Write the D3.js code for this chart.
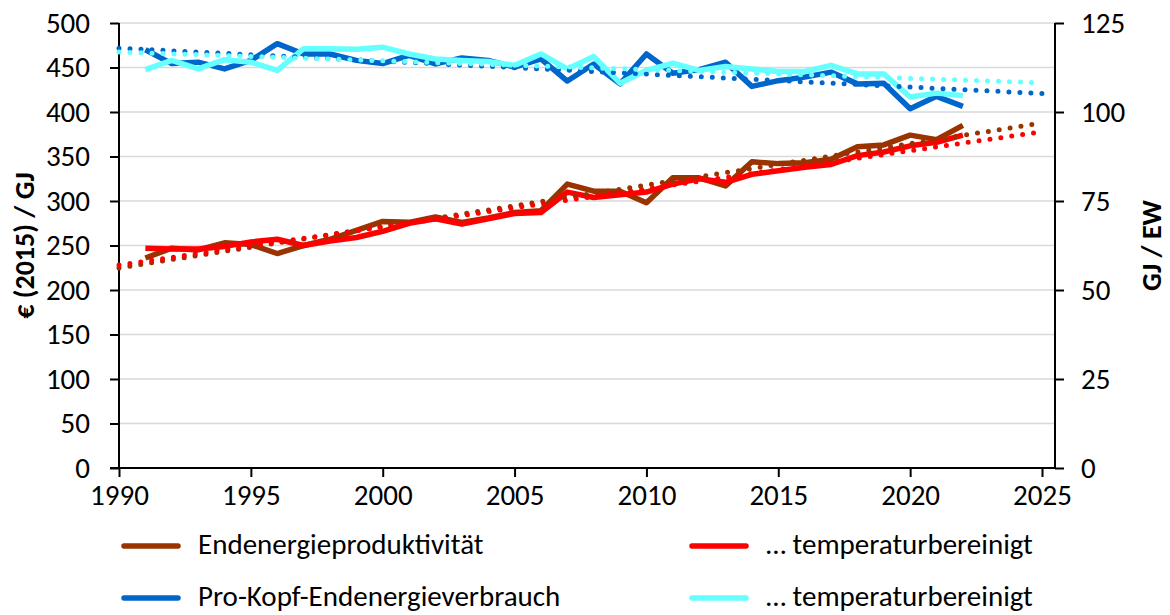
<!DOCTYPE html>
<html lang="de">
<head>
    <meta charset="UTF-8">
    <title>Endenergieproduktivität und Pro-Kopf-Endenergieverbrauch</title>
    <style>
        body, html {
            margin: 0;
            padding: 0;
            background-color: #ffffff;
            font-family: Carlito, Calibri, Lato, sans-serif;
        }
        .tick text { font-size: 29px; fill: #000; }
        .axis-title { font-size: 28px; font-weight: bold; fill: #000; }
        .legend text { font-size: 29px; fill: #000; }
    </style>
</head>
<body>
    <div id="chart"></div>

    <script src="https://d3js.org/d3.v7.min.js"></script>
    <script>
        // Jahre
        const years = d3.range(1991, 2023);

        // Endenergieproduktivität, € (2015) / GJ (linke Achse)
        const produktivitaet = [236, 247, 245, 253, 251, 241, 250, 257, 267, 277, 276,
            282, 276, 281, 287, 289, 319, 311, 311, 298, 326, 326, 317, 344, 342, 343,
            347, 361, 363, 374, 369, 385];
        const produktivitaetTemp = [247, 246, 246, 249, 254, 257, 250, 255, 259, 266, 275,
            280, 274, 280, 286, 287, 310, 304, 307, 310, 319, 325, 321, 330, 334, 338,
            341, 351, 355, 362, 366, 374];

        // Pro-Kopf-Endenergieverbrauch, GJ / EW (rechte Achse)
        const proKopf = [117.5, 113.6, 114.0, 112.1, 114.5, 119.2, 116.3, 116.3, 114.5, 113.6,
            115.9, 113.5, 115.2, 114.5, 112.6, 114.9, 108.7, 113.5, 107.9, 116.3, 110.9,
            111.9, 114.0, 107.2, 108.8, 109.8, 111.2, 107.9, 108.1, 100.9, 104.4, 101.6];
        const proKopfTemp = [111.9, 114.5, 112.1, 114.7, 114.0, 111.7, 117.8, 117.8, 117.6, 118.2,
            116.3, 114.9, 114.5, 114.2, 113.1, 116.3, 112.1, 115.6, 108.1, 111.7, 113.7,
            111.7, 112.8, 112.1, 111.4, 111.4, 113.1, 110.7, 110.7, 104.2, 105.3, 104.6];

        const xTicks = [1990, 1995, 2000, 2005, 2010, 2015, 2020, 2025];
        const yLeftTicks = d3.range(0, 501, 50);
        const yRightTicks = [0, 25, 50, 75, 100, 125];

        const width = 1170, height = 615;
        const plotLeft = 119, plotRight = 1055, plotTop = 23, plotBottom = 468;

        const svg = d3.select("#chart").append("svg")
            .attr("width", width)
            .attr("height", height);

        const x = d3.scaleLinear().domain([1990, 2025]).range([plotLeft, 1042]);
        const yL = d3.scaleLinear().domain([0, 500]).range([plotBottom, plotTop]);
        const yR = d3.scaleLinear().domain([0, 125]).range([plotBottom, plotTop]);

        // gridlines
        svg.append("g")
            .selectAll("line")
            .data(yLeftTicks.filter(d => d > 0))
            .join("line")
            .attr("x1", plotLeft).attr("x2", plotRight)
            .attr("y1", d => yL(d)).attr("y2", d => yL(d))
            .attr("stroke", "#d9d9d9")
            .attr("stroke-width", 1.5);

        // axes
        const axL = svg.append("g")
            .attr("transform", `translate(${plotLeft},0)`)
            .call(d3.axisLeft(yL).tickValues(yLeftTicks).tickSize(9).tickPadding(20));
        const axR = svg.append("g")
            .attr("transform", `translate(${plotRight},0)`)
            .call(d3.axisRight(yR).tickValues(yRightTicks).tickSize(9).tickPadding(17));
        const axX = svg.append("g")
            .attr("transform", `translate(0,${plotBottom})`)
            .call(d3.axisBottom(x).tickValues(xTicks).tickFormat(d3.format("d")).tickSize(9).tickPadding(7));

        [axL, axR, axX].forEach(a => {
            a.attr("font-family", null).attr("font-size", null);
            a.selectAll(".domain").attr("stroke-width", 2);
            a.selectAll(".tick line").attr("stroke-width", 2);
        });
        axL.select(".domain").attr("d", `M0,${plotBottom}V${plotTop}`);
        axR.select(".domain").attr("d", `M0,${plotBottom}V${plotTop}`);
        // x axis line reaches the secondary axis
        axX.select(".domain").attr("d", `M${plotLeft - 9},0H${plotRight}`);

        // axis titles
        svg.append("text")
            .attr("class", "axis-title")
            .attr("transform", `translate(34,${(plotTop + plotBottom) / 2}) rotate(-90)`)
            .attr("text-anchor", "middle")
            .text("€ (2015) / GJ");
        svg.append("text")
            .attr("class", "axis-title")
            .attr("transform", `translate(1161,${(plotTop + plotBottom) / 2}) rotate(-90)`)
            .attr("text-anchor", "middle")
            .text("GJ / EW");

        // series
        const series = [
            {name: "Endenergieproduktivität", values: produktivitaet, y: yL, color: "#993300"},
            {name: "… temperaturbereinigt", values: produktivitaetTemp, y: yL, color: "#ff0000"},
            {name: "Pro-Kopf-Endenergieverbrauch", values: proKopf, y: yR, color: "#0066cc"},
            {name: "… temperaturbereinigt", values: proKopfTemp, y: yR, color: "#66ffff"}
        ];

        series.forEach(s => {
            const line = d3.line()
                .x((d, i) => x(years[i]))
                .y(d => s.y(d));
            svg.append("path")
                .datum(s.values)
                .attr("fill", "none")
                .attr("stroke", s.color)
                .attr("stroke-width", 5.5)
                .attr("stroke-linejoin", "round")
                .attr("d", line);
        });

        // linear trend lines (least squares), 1990–2025
        series.forEach(s => {
            const mx = d3.mean(years), my = d3.mean(s.values);
            const slope = d3.sum(years, (yr, i) => (yr - mx) * (s.values[i] - my)) /
                d3.sum(years, yr => (yr - mx) * (yr - mx));
            const f = yr => my + slope * (yr - mx);
            svg.append("line")
                .attr("x1", x(1990)).attr("y1", s.y(f(1990)))
                .attr("x2", x(2025)).attr("y2", s.y(f(2025)))
                .attr("stroke", s.color)
                .attr("stroke-width", 5)
                .attr("stroke-linecap", "round")
                .attr("stroke-dasharray", "0 11");
        });

        // legend
        const legendPos = [[122, 546], [690, 546], [122, 598], [690, 598]];
        const legend = svg.append("g").attr("class", "legend");
        series.forEach((s, i) => {
            const [lx, ly] = legendPos[i];
            legend.append("line")
                .attr("x1", lx + 2).attr("x2", lx + 56)
                .attr("y1", ly).attr("y2", ly)
                .attr("stroke", s.color)
                .attr("stroke-width", 5.5)
                .attr("stroke-linecap", "round");
            legend.append("text")
                .attr("x", lx + 76)
                .attr("y", ly - 2)
                .attr("dy", "0.35em")
                .text(s.name);
        });
    </script>
</body>
</html>
